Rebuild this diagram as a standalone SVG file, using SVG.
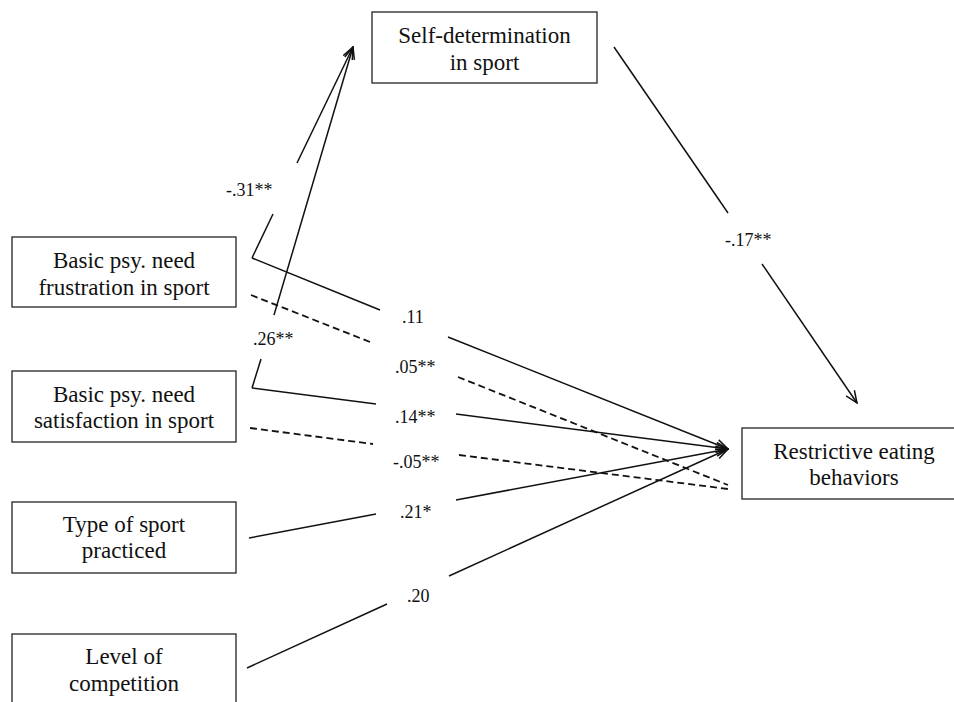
<svg xmlns="http://www.w3.org/2000/svg" width="954" height="702" viewBox="0 0 954 702">
<style>
.box{fill:#fff;stroke:#333;stroke-width:1.4}
.nt{font-family:"Liberation Serif","Times New Roman",serif;font-size:23px;fill:#111;text-anchor:middle}
.lb{font-family:"Liberation Serif","Times New Roman",serif;font-size:18px;fill:#111}
.ln{fill:none;stroke:#111;stroke-width:1.5}
.dash{fill:none;stroke:#111;stroke-width:1.8;stroke-dasharray:7 4}
</style>
<defs>
<marker id="arr" viewBox="0 0 14 12" refX="13" refY="6" markerWidth="14" markerHeight="12" markerUnits="userSpaceOnUse" orient="auto">
<path d="M1,1 L13,6 L1,11" fill="none" stroke="#111" stroke-width="1.5"/>
</marker>
</defs>
<rect width="954" height="702" fill="#fff"/>

<g id="connectors">
<!-- frustration -> self-determination -->
<path class="ln" d="M252,258 L273,214"/>
<path class="ln" d="M297,163 L353,47" marker-end="url(#arr)"/>
<text class="lb" x="226" y="196">-.31**</text>
<!-- satisfaction -> self-determination -->
<path class="ln" d="M252,388 L261,359"/>
<path class="ln" d="M274,315 L353,47" marker-end="url(#arr)"/>
<text class="lb" x="253" y="345">.26**</text>
<!-- frustration -> restrictive -->
<path class="ln" d="M252,258 L380,310"/>
<path class="ln" d="M448,337 L728,449" marker-end="url(#arr)"/>
<text class="lb" x="402" y="323">.11</text>
<!-- frustration dashed -->
<path class="dash" d="M251,295 L370,342"/>
<path class="dash" d="M458,377 L728,485"/>
<text class="lb" x="395" y="373">.05**</text>
<!-- satisfaction -> restrictive -->
<path class="ln" d="M252,388 L376,404"/>
<path class="ln" d="M456,414 L728,449" marker-end="url(#arr)"/>
<text class="lb" x="395" y="423">.14**</text>
<!-- satisfaction dashed -->
<path class="dash" d="M250,428 L373,444"/>
<path class="dash" d="M459,455 L728,489"/>
<text class="lb" x="393" y="468">-.05**</text>
<!-- type of sport -> restrictive -->
<path class="ln" d="M249,538 L376,514"/>
<path class="ln" d="M456,500 L728,449" marker-end="url(#arr)"/>
<text class="lb" x="400" y="518">.21*</text>
<!-- level -> restrictive -->
<path class="ln" d="M247,668 L387,604"/>
<path class="ln" d="M449,576 L728,449" marker-end="url(#arr)"/>
<text class="lb" x="407" y="602">.20</text>
<!-- self-determination -> restrictive -->
<path class="ln" d="M614,47 L728,213"/>
<path class="ln" d="M762,264 L857,403" marker-end="url(#arr)"/>
<text class="lb" x="725" y="246">-.17**</text>
</g>

<g id="node-selfdetermination">
<rect class="box" x="372" y="12" width="225" height="71"/>
<text class="nt" x="484.5" y="43">Self-determination</text>
<text class="nt" x="484.5" y="70">in sport</text>
</g>

<g id="node-frustration">
<rect class="box" x="12" y="237" width="224" height="70"/>
<text class="nt" x="124" y="268">Basic psy. need</text>
<text class="nt" x="124" y="295">frustration in sport</text>
</g>

<g id="node-satisfaction">
<rect class="box" x="12" y="371" width="224" height="71"/>
<text class="nt" x="124" y="402">Basic psy. need</text>
<text class="nt" x="124" y="428">satisfaction in sport</text>
</g>

<g id="node-typesport">
<rect class="box" x="12" y="502" width="224" height="71"/>
<text class="nt" x="124" y="532">Type of sport</text>
<text class="nt" x="124" y="558">practiced</text>
</g>

<g id="node-level">
<rect class="box" x="12" y="634" width="224" height="80"/>
<text class="nt" x="124" y="664">Level of</text>
<text class="nt" x="124" y="691">competition</text>
</g>

<g id="node-restrictive">
<rect class="box" x="742" y="428" width="224" height="71"/>
<text class="nt" x="854" y="459">Restrictive eating</text>
<text class="nt" x="854" y="485">behaviors</text>
</g>
</svg>
